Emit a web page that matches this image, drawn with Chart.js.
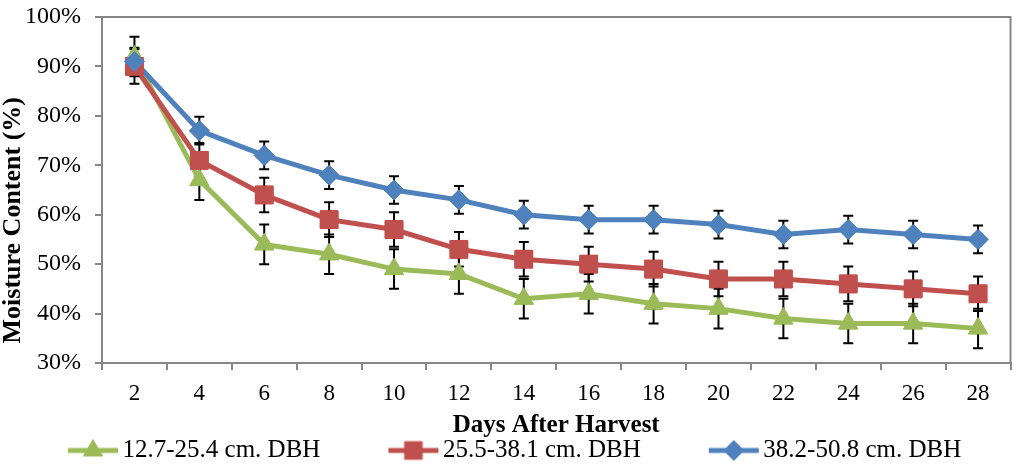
<!DOCTYPE html>
<html>
<head>
<meta charset="utf-8">
<script src="https://cdn.jsdelivr.net/npm/chart.js@4/dist/chart.umd.min.js"></script>
<style>
  html, body { margin: 0; padding: 0; background: #fff; }
  #wrap { width: 1024px; height: 469px; }
</style>
</head>
<body>
<div id="wrap"><canvas id="moisture"></canvas></div>
<script>
// days after harvest (x categories)
var days = ['2', '4', '6', '8', '10', '12', '14', '16', '18', '20', '22', '24', '26', '28'];

// moisture content (%) per DBH class
var small = [92, 67, 54, 52, 49, 48, 43, 44, 42, 41, 39, 38, 38, 37];
var medium = [90, 71, 64, 59, 57, 53, 51, 50, 49, 47, 47, 46, 45, 44];
var large = [91, 77, 72, 68, 65, 63, 60, 59, 59, 58, 56, 57, 56, 55];

// error bar half-lengths (%)
var smallErr = [4, 4, 4, 4, 4, 4, 4, 4, 4, 4, 4, 4, 4, 4];
var mediumErr = [3.5, 3.5, 3.5, 3.5, 3.5, 3.5, 3.5, 3.5, 3.5, 3.5, 3.5, 3.5, 3.5, 3.5];
var largeErr = [2.8, 2.8, 2.8, 2.8, 2.8, 2.8, 2.8, 2.8, 2.8, 2.8, 2.8, 2.8, 2.8, 2.8];

var seriesNames = ['12.7-25.4 cm. DBH', '25.5-38.1 cm. DBH', '38.2-50.8 cm. DBH'];
var yTicks = [30, 40, 50, 60, 70, 80, 90, 100];

var GREEN = '#9BBB59', RED = '#C0504D', BLUE = '#4F81BD';
var FONT = "'Liberation Serif', 'Times New Roman', serif";
var BOX = 110;

// line + marker picture for the legend (line sits at the right end, next to the text)
function legendIcon(color, style, radius) {
    var c = document.createElement('canvas');
    var w = BOX + 20;
    c.width = w; c.height = 26;
    var g = c.getContext('2d');
    g.strokeStyle = color;
    g.lineWidth = 5;
    g.beginPath();
    g.moveTo(w - 52, 13); g.lineTo(w - 2, 13);
    g.stroke();
    g.fillStyle = color;
    g.lineWidth = 1;
    Chart.helpers.drawPoint(g, { pointStyle: style, radius: radius, borderWidth: 1, rotation: 0 }, w - 27, 13);
    return c;
}

var errorBars = {
    id: 'errorBars',
    afterDatasetsDraw: function(chart) {
        var ctx = chart.ctx;
        var y = chart.scales.y;
        ctx.save();
        ctx.strokeStyle = '#000';
        ctx.lineWidth = 2;
        chart.data.datasets.forEach(function(ds, i) {
            chart.getDatasetMeta(i).data.forEach(function(pt, j) {
                var v = ds.data[j], e = ds.errors[j];
                var top = y.getPixelForValue(v + e), bot = y.getPixelForValue(v - e);
                ctx.beginPath();
                ctx.moveTo(pt.x, top); ctx.lineTo(pt.x, bot);
                ctx.moveTo(pt.x - 5, top); ctx.lineTo(pt.x + 5, top);
                ctx.moveTo(pt.x - 5, bot); ctx.lineTo(pt.x + 5, bot);
                ctx.stroke();
            });
        });
        ctx.restore();
        // markers go back on top of the bars, blue last
        [0, 1, 2].forEach(function(i) {
            chart.getDatasetMeta(i).data.forEach(function(pt) { pt.draw(ctx, chart.chartArea); });
        });
    }
};

var frame = {
    id: 'frame',
    afterDraw: function(chart) {
        var a = chart.chartArea, ctx = chart.ctx;
        ctx.save();
        ctx.strokeStyle = '#878787';
        ctx.lineWidth = 2;
        ctx.beginPath();
        ctx.moveTo(a.left, a.top); ctx.lineTo(a.right, a.top); ctx.lineTo(a.right, a.bottom);
        ctx.stroke();
        ctx.restore();
    }
};

var ctx = document.getElementById('moisture').getContext('2d');

var chart = new Chart(ctx, {
    type: 'line',
    data: {
        labels: days,
        datasets: [{
            label: seriesNames[0],
            data: small,
            errors: smallErr,
            borderColor: GREEN,
            backgroundColor: GREEN,
            pointStyle: 'triangle',
            pointRadius: 11,
            order: 2
        }, {
            label: seriesNames[1],
            data: medium,
            errors: mediumErr,
            borderColor: RED,
            backgroundColor: RED,
            pointStyle: 'rect',
            pointRadius: 12.5,
            order: 1
        }, {
            label: seriesNames[2],
            data: large,
            errors: largeErr,
            borderColor: BLUE,
            backgroundColor: BLUE,
            pointStyle: 'rectRot',
            pointRadius: 10,
            order: 0
        }]
    },
    options: {
        responsive: true,
        maintainAspectRatio: false,
        animation: false,
        events: [],
        layout: { padding: { top: 17, right: 6, left: 0, bottom: -4 } },
        elements: {
            line: { borderWidth: 5, tension: 0 },
            point: { borderWidth: 1, hoverRadius: 0 }
        },
        plugins: {
            tooltip: { enabled: false },
            legend: {
                position: 'bottom',
                align: 'start',
                labels: {
                    color: '#000',
                    font: { family: FONT, size: 25 },
                    usePointStyle: true,
                    pointStyleWidth: BOX,
                    padding: 0,
                    generateLabels: function(chart) {
                        var icons = [legendIcon(GREEN, 'triangle', 11), legendIcon(RED, 'rect', 12.5), legendIcon(BLUE, 'rectRot', 10)];
                        return chart.data.datasets.map(function(ds, i) {
                            return { text: ds.label, pointStyle: icons[i], fillStyle: ds.borderColor, strokeStyle: ds.borderColor, lineWidth: 0, datasetIndex: i, fontColor: '#000' };
                        });
                    }
                }
            }
        },
        scales: {
            x: {
                offset: true,
                afterFit: function(scale) { scale.height = 75; },
                grid: { offset: true, drawOnChartArea: false, drawTicks: true, tickLength: 7, color: '#878787', lineWidth: 2 },
                border: { color: '#878787', width: 2 },
                ticks: { color: '#000', font: { family: FONT, size: 23 }, padding: 10, maxRotation: 0 },
                title: { display: true, text: 'Days After Harvest', color: '#000', font: { family: FONT, size: 25, weight: 'bold', lineHeight: 1 }, padding: { top: 0, bottom: 0 } }
            },
            y: {
                min: 30,
                max: 100,
                afterBuildTicks: function(scale) { scale.ticks = yTicks.map(function(v) { return { value: v }; }); },
                afterFit: function(scale) { scale.width = 102; },
                grid: { drawOnChartArea: false, drawTicks: true, tickLength: 7, color: '#878787', lineWidth: 2 },
                border: { color: '#878787', width: 2 },
                ticks: { color: '#000', font: { family: FONT, size: 24, lineHeight: 0.2 }, padding: 14, callback: function(v) { return v + '%'; } },
                title: { display: true, text: '   Moisture Content (%)', align: 'start', color: '#000', font: { family: FONT, size: 26, weight: 'bold', lineHeight: 1 }, padding: { top: 0, bottom: 0 } }
            }
        }
    },
    plugins: [errorBars, frame]
});
</script>
</body>
</html>
